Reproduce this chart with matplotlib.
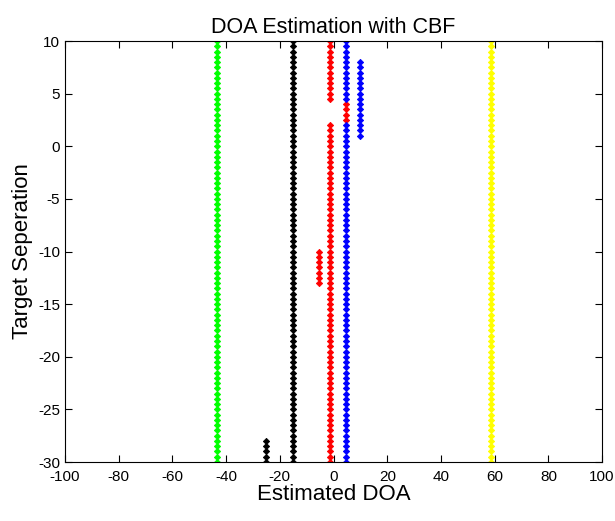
import numpy as np
import matplotlib
matplotlib.use("Agg")
import matplotlib.pyplot as plt

plt.rcParams['font.family'] = ['Liberation Sans', 'DejaVu Sans']
plt.rcParams['axes.unicode_minus'] = False

# target separation grid (step of the sweep)
sep_min = -30
sep_max = 10
sep_step = 0.5

# estimated DOA segments: (doa, separation from, separation to)
green_seg = [(-43.5, -30, 10)]
yellow_seg = [(58.8, -30, 10)]
black_seg = [(-15.0, -30, 10), (-25.0, -30, -28)]
red_seg = [(-1.3, -30, 2), (-1.3, 4.5, 10), (4.5, 2.5, 4), (-5.3, -13, -10)]
blue_seg = [(4.5, -30, 2), (4.5, 4.5, 10), (10.0, 1, 8)]

series = [
    (green_seg, (0, 1, 0)),
    (black_seg, 'k'),
    (red_seg, 'r'),
    (blue_seg, 'b'),
    (yellow_seg, (1, 1, 0)),
]

sep = np.arange(sep_min, sep_max + sep_step / 2, sep_step)

fig = plt.figure(figsize=(6.15, 5.21), dpi=100)
ax = fig.add_axes([0.1057, 0.1132, 0.8733, 0.8081])

for segs, col in series:
    for doa, s0, s1 in segs:
        s = sep[(sep >= s0 - 1e-9) & (sep <= s1 + 1e-9)]
        ax.plot(np.full(len(s), doa), s, linestyle='none', marker='D',
                markersize=3.2, color=col, markeredgewidth=0.6)

ax.set_xlim(-100, 100)
ax.set_ylim(-30, 10)
ax.set_xticks(np.arange(-100, 101, 20))
ax.set_yticks(np.arange(-30, 11, 5))
ax.tick_params(direction='in', top=True, right=True, length=5, labelsize=11)
ax.tick_params(axis='x', pad=6)
for sp in ax.spines.values():
    sp.set_linewidth(0.8)

ax.set_title("DOA Estimation with CBF", fontsize=15.5, pad=6)
ax.set_xlabel("Estimated DOA", fontsize=16, labelpad=0)
ax.set_ylabel("Target Seperation", fontsize=16, labelpad=4)

fig.savefig("out.png", dpi=100)
